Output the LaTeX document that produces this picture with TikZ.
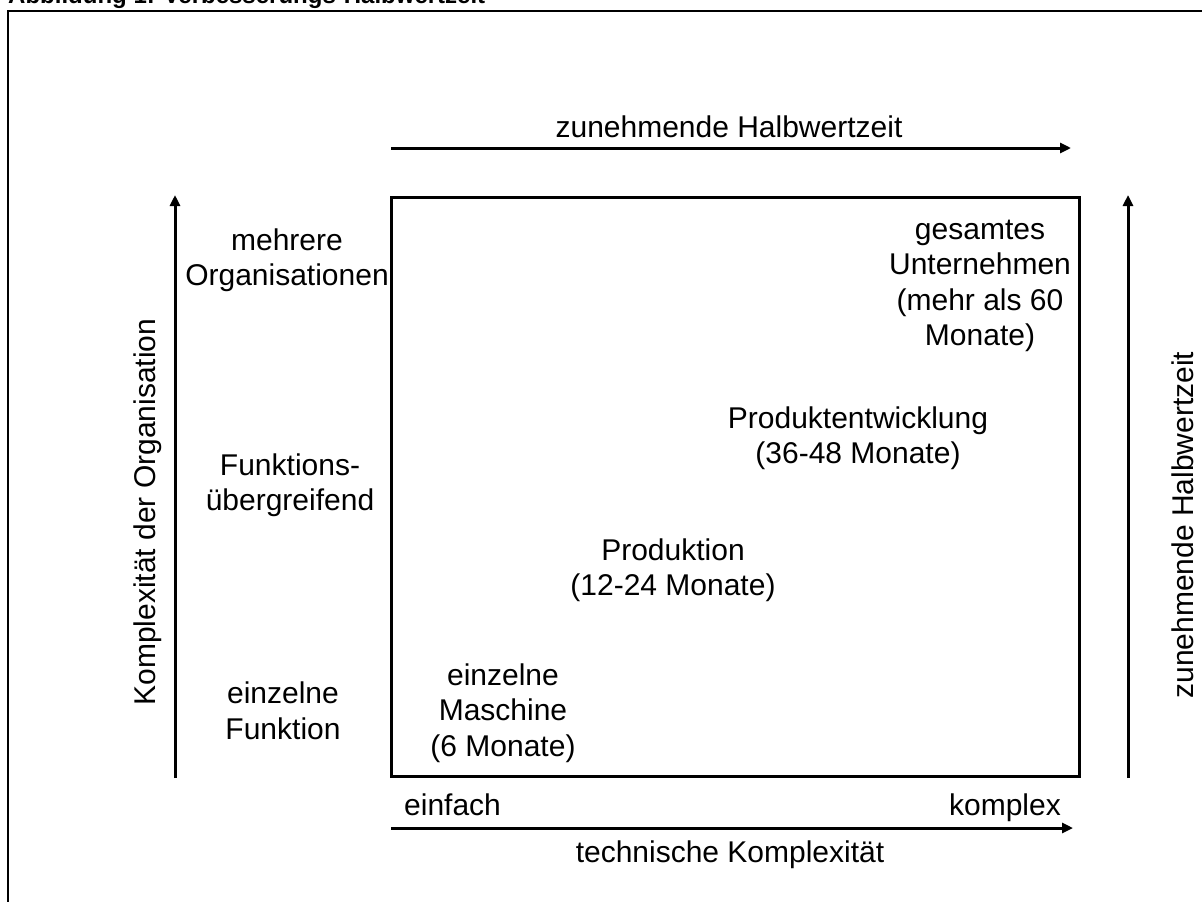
\documentclass[tikz,border=0pt]{standalone}
\usepackage{fontspec}
\setmainfont{Liberation Sans}
\usetikzlibrary{arrows.meta}
\begin{document}
\begin{tikzpicture}[x=1pt,y=-1pt,
  lbl/.style={inner sep=0pt,align=center,font=\fontsize{30}{35.5}\selectfont},
  axis/.style={line width=3pt,-{Triangle[length=11pt,width=10pt]}},
  frame/.style={draw,line width=3pt}]
\useasboundingbox (0,0) rectangle (1202,902);
% outer frame (clipped by page)
\draw[line width=2pt] (8,930) -- (8,11) -- (1230,11);
% title (cut off at top, as in the reference)
\node[anchor=base west,inner sep=0pt,font=\bfseries\fontsize{24}{28}\selectfont] (title) at (8,4) {Abbildung 1: Verbesserungs-Halbwertzeit};
% main box
\node[frame,minimum width=688pt,minimum height=579pt,inner sep=0pt] (box) at (735,486.5) {};
% axes
\coordinate (t0) at (391,148); \coordinate (t1) at (1071,148);
\coordinate (b0) at (391,828); \coordinate (b1) at (1073,828);
\coordinate (l0) at (175,778); \coordinate (l1) at (175,195);
\coordinate (r0) at (1128,778); \coordinate (r1) at (1128,195);
\draw[axis] (t0) -- (t1);
\draw[axis] (b0) -- (b1);
\draw[axis] (l0) -- (l1);
\draw[axis] (r0) -- (r1);
% axis labels
\node[lbl] (ttop) at (729,127) {zunehmende Halbwertzeit};
\node[lbl] (tbot) at (730,855) {technische Komplexität};
\node[lbl,anchor=base west] (einf) at (404,815) {einfach};
\node[lbl,anchor=base east] (kompl) at (1061,815) {komplex};
\node[lbl,rotate=90] (tleft) at (148,512) {Komplexität der Organisation};
\node[lbl,rotate=90] (tright) at (1183,525) {zunehmende Halbwertzeit};
% row labels
\node[lbl] (r3) at (287,260) {mehrere\\Organisationen};
\node[lbl] (r2) at (290,485) {Funktions-\\übergreifend};
\node[lbl] (r1t) at (283,711) {einzelne\\Funktion};
% inner entries
\node[lbl] (e1) at (503,713) {einzelne\\Maschine\\(6 Monate)};
\node[lbl] (e2) at (673,570) {Produktion\\(12-24 Monate)};
\node[lbl] (e3) at (858,438) {Produktentwicklung\\(36-48 Monate)};
\node[lbl] (e4) at (980,286) {gesamtes\\Unternehmen\\(mehr als 60\\Monate)};
\end{tikzpicture}
\end{document}
